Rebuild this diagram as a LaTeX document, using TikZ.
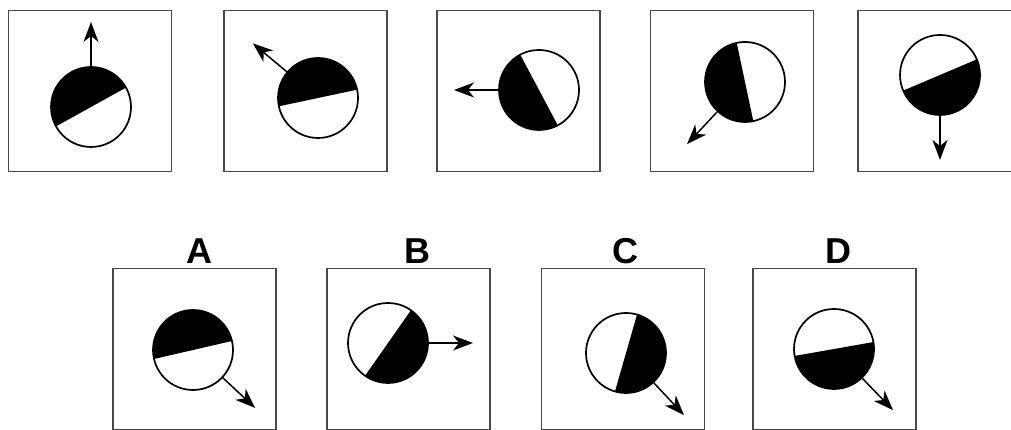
\documentclass[tikz,border=0pt]{standalone}
\usepackage{fontspec}
\setmainfont{Liberation Sans}
\usetikzlibrary{calc,arrows.meta}
\tikzset{
  panel/.style={draw=black!72, line width=1.6pt, minimum width=163pt, minimum height=161pt, inner sep=0pt, outer sep=0pt},
  disc/.style={circle, draw=black, line width=1.7pt, minimum size=80pt, inner sep=0pt},
  arr/.style={line width=1.5pt, -{Stealth[length=20pt,width=15pt,inset=6pt]}},
  lbl/.style={font=\fontsize{36}{36}\bfseries\selectfont, inner sep=0pt}
}
\newcommand\mydisc[5]{%
  \fill[black] (#2,#3) ++(#4-90:40pt) arc[start angle=#4-90, delta angle=180, radius=40pt] -- cycle;
  \node[disc] (#1) at (#2,#3) {};
  \coordinate (#1t) at ($(#1.center)+(#5:85pt)$);
  \draw[arr] (#1.#5) -- (#1t);
}
\begin{document}
\begin{tikzpicture}[x=1pt,y=1pt]
\useasboundingbox (0,0) rectangle (1011,430);
\fill[white] (0,0) rectangle (1011,430);
% top row panels
\node[panel] (p1) at (90,339) {};
\node[panel] (p2) at (305.5,339) {};
\node[panel] (p3) at (518.5,339) {};
\node[panel] (p4) at (732,339) {};
\node[panel] (p5) at (939.5,339) {};
% bottom row panels
\node[panel] (pA) at (194.5,81) {};
\node[panel] (pB) at (408.5,81) {};
\node[panel] (pC) at (623,81) {};
\node[panel] (pD) at (834.5,81) {};
% labels
\node[lbl] (lA) at (199,178.5) {A};
\node[lbl] (lB) at (417,178.5) {B};
\node[lbl] (lC) at (625,178.5) {C};
\node[lbl] (lD) at (838,178.5) {D};
% discs
\mydisc{c1}{91}{323}{119}{90}
\mydisc{c2}{318}{332}{102}{140}
\mydisc{c3}{539}{340}{208}{180}
\mydisc{c4}{745}{348}{192}{227}
\mydisc{c5}{940}{355}{293}{270}
\mydisc{cA}{193}{80}{103}{317}
\mydisc{cB}{388}{87}{325}{0}
\mydisc{cC}{626}{77}{344}{313}
\mydisc{cD}{834}{81}{280}{314}
\end{tikzpicture}
\end{document}
